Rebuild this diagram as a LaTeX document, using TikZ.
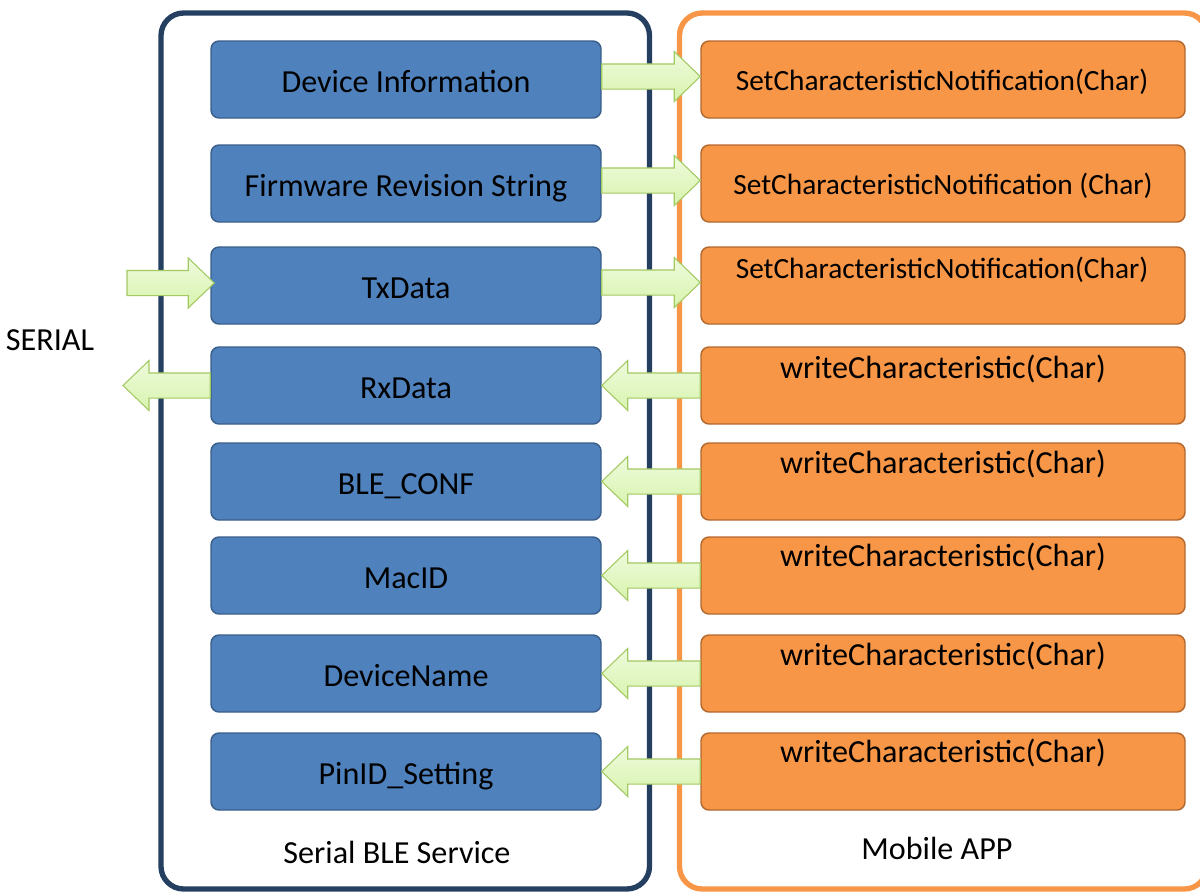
\documentclass[tikz,border=0pt]{standalone}
\usepackage{fontspec}
\setmainfont{Carlito}
\usetikzlibrary{calc}
\definecolor{navy}{HTML}{243F60}
\definecolor{frameorange}{HTML}{F79646}
\definecolor{boxblue}{HTML}{4F81BD}
\definecolor{boxblueline}{HTML}{3A5F8B}
\definecolor{boxorange}{HTML}{F79646}
\definecolor{boxorangeline}{HTML}{B3692E}
\definecolor{arrowtop}{HTML}{EEFBDC}
\definecolor{arrowbot}{HTML}{D8F3AE}
\definecolor{arrowline}{HTML}{A3C963}
\tikzset{
  bigtext/.style={font=\fontsize{24.1}{28}\selectfont},
  midtext/.style={font=\fontsize{22}{26}\selectfont},
  bluebox/.style={draw=boxblueline, line width=1.1pt, fill=boxblue, rounded corners=6pt,
     minimum width=292.5pt, minimum height=57.75pt, inner sep=0pt, bigtext,
     text height=19.2pt, text depth=0pt},
  orangebox/.style={draw=boxorangeline, line width=1.1pt, fill=boxorange, rounded corners=6pt,
     minimum width=363pt, minimum height=57.75pt, inner sep=0pt},
  blockarrow/.style={draw=arrowline, line width=0.8pt, top color=arrowtop, bottom color=arrowbot, line join=miter},
  frame/.style={line width=4pt, rounded corners=17pt}
}
\newcommand\blockarrow[2]{%
  \path[blockarrow] let \p1=#1, \p2=#2, \n1={sign(\x2-\x1)} in
   ({\x1},{\y1+9.4pt}) -- ({\x2-\n1*19.5pt},{\y1+9.4pt}) -- ({\x2-\n1*19.5pt},{\y1+18.75pt})
   -- ({\x2},{\y1}) -- ({\x2-\n1*19.5pt},{\y1-18.75pt}) -- ({\x2-\n1*19.5pt},{\y1-9.4pt})
   -- ({\x1},{\y1-9.4pt}) -- cycle;}
\begin{document}
\begin{tikzpicture}[x=0.75pt,y=-0.75pt]
\useasboundingbox (0,0) rectangle (1200,893);
\clip (0,0) rectangle (1200,893);
% frames
\draw[frame, draw=navy] (161,13) rectangle (649.5,889);
\draw[frame, draw=frameorange] (679.5,13) rectangle (1207,889);
% blue boxes
\node[bluebox] (b1) at (406,79.5) {Device Information};
\node[bluebox] (b2) at (406,183.5) {Firmware Revision String};
\node[bluebox] (b3) at (406,285.5) {TxData};
\node[bluebox] (b4) at (406,385.5) {RxData};
\node[bluebox] (b5) at (406,481.5) {BLE\_CONF};
\node[bluebox] (b6) at (406,575.5) {MacID};
\node[bluebox] (b7) at (406,673.5) {DeviceName};
\node[bluebox] (b8) at (406,771.5) {PinID\_Setting};
% orange boxes
\node[orangebox] (o1) at (943,79.5) {};
\node[orangebox] (o2) at (943,183.5) {};
\node[orangebox] (o3) at (943,285.5) {};
\node[orangebox] (o4) at (943,385.5) {};
\node[orangebox] (o5) at (943,481.5) {};
\node[orangebox] (o6) at (943,575.5) {};
\node[orangebox] (o7) at (943,673.5) {};
\node[orangebox] (o8) at (943,771.5) {};
\node[midtext] (t1) at (942,82) {SetCharacteristicNotification(Char)};
\node[midtext] (t2) at (943,186) {SetCharacteristicNotification (Char)};
\node[midtext] (t3) at (942,270) {SetCharacteristicNotification(Char)};
\node[bigtext] (t4) at (943,369) {writeCharacteristic(Char)};
\node[bigtext] (t5) at (943,464) {writeCharacteristic(Char)};
\node[bigtext] (t6) at (943,557) {writeCharacteristic(Char)};
\node[bigtext] (t7) at (943,656) {writeCharacteristic(Char)};
\node[bigtext] (t8) at (943,753) {writeCharacteristic(Char)};
% labels
\node[bigtext] (serial) at (50,340) {SERIAL};
\node[bigtext] (lblble) at (397,852) {Serial BLE Service};
\node[bigtext] (lblapp) at (937,848) {Mobile APP};
% arrows
\blockarrow{($(b1.east)+(0,-3)$)}{(o1.west)}
\blockarrow{($(b2.east)+(0,-3)$)}{(o2.west)}
\blockarrow{($(b3.east)+(0,-3)$)}{(o3.west)}
\blockarrow{(o4.west)}{(b4.east)}
\blockarrow{(o5.west)}{(b5.east)}
\blockarrow{(o6.west)}{(b6.east)}
\blockarrow{(o7.west)}{(b7.east)}
\blockarrow{(o8.west)}{(b8.east)}
\coordinate (serin) at (127,283);
\coordinate (serout) at (123,386);
\blockarrow{(serin)}{($(b3.west)+(4,0)$)}
\blockarrow{(b4.west)}{(serout)}
\end{tikzpicture}
\end{document}
